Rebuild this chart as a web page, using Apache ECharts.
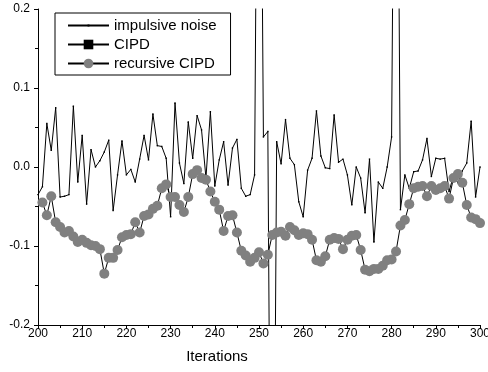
<!DOCTYPE html>
<html style="height: 100%">
<head>
	<meta charset="utf-8">
</head>
<body style="height: 100%; margin: 0; background: #fff">
<div id="container" style="width: 488px; height: 372px"></div>
<script type="text/javascript" src="https://cdn.jsdelivr.net/npm/echarts@6/dist/echarts.min.js"></script>
<script type="text/javascript">
    // iterations on the x axis
    var iterations = [
        200, 201, 202, 203, 204, 205, 206, 207, 208, 209,
        210, 211, 212, 213, 214, 215, 216, 217, 218, 219,
        220, 221, 222, 223, 224, 225, 226, 227, 228, 229,
        230, 231, 232, 233, 234, 235, 236, 237, 238, 239,
        240, 241, 242, 243, 244, 245, 246, 247, 248, 249,
        250, 251, 252, 253, 254, 255, 256, 257, 258, 259,
        260, 261, 262, 263, 264, 265, 266, 267, 268, 269,
        270, 271, 272, 273, 274, 275, 276, 277, 278, 279,
        280, 281, 282, 283, 284, 285, 286, 287, 288, 289,
        290, 291, 292, 293, 294, 295, 296, 297, 298, 299,
        300
    ];

    // impulsive noise (spikes at 250, 253, 281 go off the plot)
    var impulsiveNoise = [
        -0.035, -0.025, 0.055, 0.021, 0.075, -0.038, -0.037, -0.035, 0.077, -0.019,
        0.040, -0.047, 0.022, 0.000, 0.008, 0.019, 0.034, -0.055, -0.010, 0.033,
        -0.010, -0.003, -0.019, 0.010, 0.040, 0.009, 0.067, 0.027, 0.026, 0.011,
        -0.063, 0.081, 0.005, -0.021, 0.057, 0.011, 0.065, 0.047, -0.014, 0.070,
        -0.024, 0.009, 0.032, -0.023, 0.024, 0.035, -0.027, -0.037, -0.035, -0.010,
        0.800, 0.038, 0.045, -0.800, 0.032, 0.004, 0.060, 0.011, 0.003, -0.044,
        -0.063, -0.004, 0.011, 0.071, 0.014, -0.001, -0.002, 0.066, 0.006, 0.010,
        -0.010, -0.048, 0.000, -0.014, -0.058, 0.010, -0.095, -0.019, -0.027, 0.000,
        0.038, 0.800, -0.054, -0.010, -0.027, -0.006, -0.005, 0.009, 0.036, -0.012,
        0.011, 0.010, 0.011, -0.031, -0.011, -0.020, -0.005, 0.005, 0.058, -0.038,
        0.000
    ];

    // CIPD: only in the legend
    var cipd = [];

    // recursive CIPD
    var recursiveCipd = [
        null, -0.045, -0.061, -0.037, -0.070, -0.076, -0.083, -0.081, -0.088, -0.095,
        -0.092, -0.096, -0.099, -0.100, -0.104, -0.135, -0.115, -0.115, -0.105, -0.089,
        -0.086, -0.085, -0.070, -0.083, -0.062, -0.060, -0.053, -0.049, -0.027, -0.022,
        -0.038, -0.038, -0.048, -0.057, -0.038, -0.009, -0.004, -0.014, -0.016, -0.031,
        -0.044, -0.054, -0.081, -0.062, -0.061, -0.083, -0.106, -0.112, -0.120, -0.115,
        -0.108, -0.122, -0.111, -0.086, -0.083, -0.082, -0.087, -0.076, -0.080, -0.086,
        -0.084, -0.085, -0.092, -0.118, -0.120, -0.113, -0.092, -0.090, -0.091, -0.104,
        -0.092, -0.087, -0.086, -0.105, -0.130, -0.132, -0.129, -0.129, -0.125, -0.118,
        -0.117, -0.107, -0.074, -0.067, -0.047, -0.027, -0.025, -0.024, -0.037, -0.024,
        -0.029, -0.027, -0.024, -0.040, -0.014, -0.009, -0.020, -0.048, -0.064, -0.066,
        -0.071
    ];

    function pairs(values) {
        var arr = [];
        for (var i = 0; i < values.length; i++) {
            arr.push([iterations[i], values[i]]);
        }
        return arr;
    }

    var font = '"Liberation Sans", Arial, sans-serif';
    // small dot inside an empty 10x10 box so the legend dot stays tiny
    var dotSymbol = 'path://M0,0L0,0M10,10L10,10M4,4L6,4L6,6L4,6Z';

    var dom = document.getElementById("container");
    var myChart = echarts.init(dom, null, {renderer: 'canvas'});

    var option = {
        backgroundColor: '#fff',
        animation: false,
        textStyle: {fontFamily: font},
        grid: {
            left: 38,
            right: 8,
            top: 9,
            bottom: 47,
            containLabel: false,
            outerBoundsMode: 'none'
        },
        legend: {
            orient: 'vertical',
            left: 55,
            top: 13,
            itemWidth: 41,
            itemHeight: 12,
            itemGap: 4,
            padding: [5, 14, 4, 12],
            borderColor: '#000',
            borderWidth: 1,
            borderRadius: 0,
            backgroundColor: '#fff',
            selectedMode: false,
            textStyle: {fontSize: 15, color: '#000', fontFamily: font},
            data: ['impulsive noise', 'CIPD', 'recursive CIPD']
        },
        xAxis: {
            type: 'value',
            min: 200,
            max: 300,
            interval: 10,
            axisLine: {show: true, onZero: false, lineStyle: {color: '#000', width: 1}},
            axisTick: {show: true, inside: false, length: 4, lineStyle: {color: '#000'}},
            minorTick: {show: true, splitNumber: 2, length: 3, lineStyle: {color: '#000'}},
            axisLabel: {color: '#000', fontSize: 12, fontFamily: font, margin: 3, showMaxLabel: true},
            splitLine: {show: false},
            minorSplitLine: {show: false}
        },
        yAxis: {
            type: 'value',
            min: -0.2,
            max: 0.2,
            interval: 0.1,
            axisLine: {show: true, onZero: false, lineStyle: {color: '#000', width: 1}},
            axisTick: {show: true, inside: false, length: 4, lineStyle: {color: '#000'}},
            minorTick: {show: true, splitNumber: 2, length: 3, lineStyle: {color: '#000'}},
            axisLabel: {
                color: '#000', fontSize: 12, fontFamily: font, margin: 8,
                formatter: function (v) { return v.toFixed(1); }
            },
            splitLine: {show: false},
            minorSplitLine: {show: false}
        },
        graphic: [{
            type: 'text',
            style: {
                text: 'Iterations',
                x: 217,
                y: 357,
                textAlign: 'center',
                textVerticalAlign: 'middle',
                fontSize: 15,
                fontFamily: font,
                fill: '#000'
            }
        }],
        series: [{
            name: 'impulsive noise',
            type: 'line',
            data: pairs(impulsiveNoise),
            symbol: dotSymbol,
            symbolSize: 7,
            itemStyle: {color: '#000', borderWidth: 0},
            lineStyle: {color: '#000', width: 1},
            emphasis: {disabled: true},
            clip: true
        }, {
            name: 'CIPD',
            type: 'line',
            data: cipd,
            symbol: 'rect',
            itemStyle: {color: '#000', borderWidth: 0},
            lineStyle: {color: '#000', width: 1},
            emphasis: {disabled: true}
        }, {
            name: 'recursive CIPD',
            type: 'line',
            data: pairs(recursiveCipd),
            symbol: 'circle',
            symbolSize: 10,
            showSymbol: true,
            itemStyle: {color: '#808080', borderWidth: 0},
            lineStyle: {color: '#000', width: 1},
            emphasis: {disabled: true},
            clip: true
        }]
    };

    myChart.setOption(option);
</script>
</body>
</html>
